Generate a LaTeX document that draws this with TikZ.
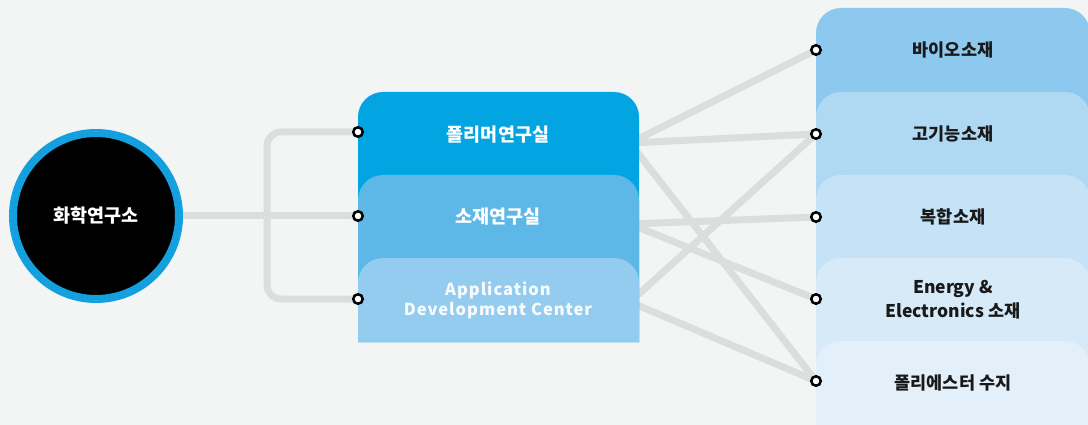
\documentclass[tikz,border=0pt]{standalone}
\usepackage{fontspec}
\newfontfamily\krfont{Noto Sans CJK KR}
\newfontfamily\krwide{Noto Sans CJK KR}[LetterSpace=6]
\definecolor{bg}{HTML}{F3F4F4}
\definecolor{wiregray}{HTML}{DCDDDD}
\definecolor{ring}{HTML}{14A0DE}
\definecolor{labA}{HTML}{02A5E2}
\definecolor{labB}{HTML}{5DB8E8}
\definecolor{labC}{HTML}{93CCEF}
\definecolor{matA}{HTML}{8DC9EE}
\definecolor{matB}{HTML}{AFD8F3}
\definecolor{matC}{HTML}{C5E2F6}
\definecolor{matD}{HTML}{D6EAF8}
\definecolor{matE}{HTML}{E3F0FA}
\begin{document}
\begin{tikzpicture}[x=1pt,y=-1pt,
    wire/.style={draw=wiregray,line width=7pt},
    port/.style={circle,draw=black,fill=white,line width=2.5pt,inner sep=0pt,minimum size=9.5pt},
    lab/.style={font=\krfont\bfseries\fontsize{18.5}{20}\selectfont,text=white,align=center},
    mat/.style={font=\krfont\bfseries\fontsize{17.5}{24}\selectfont,text=black!90,align=center}]
  \clip (0,0) rectangle (1088,425);
  \fill[bg] (0,0) rectangle (1088,425);
  \coordinate (l1) at (358,132);
  \coordinate (l2) at (358,216);
  \coordinate (l3) at (358,299);
  \coordinate (bend) at (267,216);
  \coordinate (s1) at (630,143);
  \coordinate (s2) at (630,224);
  \coordinate (s3) at (630,302);
  \coordinate (r1) at (816,50);
  \coordinate (r2) at (816,134);
  \coordinate (r3) at (816,217);
  \coordinate (r4) at (816,299);
  \coordinate (r5) at (816,381);
  \node[circle,draw=ring,line width=8pt,fill=black,minimum size=166pt,inner sep=0pt] (inst) at (96,216) {};
  \begin{scope}[wire]
    \draw (inst) -- (l2);
    \draw[rounded corners=14pt] (l1) -| (bend) |- (l3);
    \draw (s1) -- (r1);
    \draw (s1) -- (r2);
    \draw (s1) -- (r5);
    \draw (s2) -- (r3);
    \draw (s2) -- (r4);
    \draw (s3) -- (r2);
    \draw (s3) -- (r5);
  \end{scope}
  \fill[labA] (358,342) -- (358,117) arc[start angle=180,end angle=270,radius=25] -- (614,92) arc[start angle=270,end angle=360,radius=25] -- (639,342) -- cycle;
  \fill[labB] (358,342) -- (358,200) arc[start angle=180,end angle=270,radius=25] -- (614,175) arc[start angle=270,end angle=360,radius=25] -- (639,342) -- cycle;
  \fill[labC] (358,342) -- (358,283) arc[start angle=180,end angle=270,radius=25] -- (614,258) arc[start angle=270,end angle=360,radius=25] -- (639,342) -- cycle;
  \fill[matA] (816,440) -- (816,33) arc[start angle=180,end angle=270,radius=25] -- (1065,8) arc[start angle=270,end angle=360,radius=25] -- (1090,440) -- cycle;
  \fill[matB] (816,440) -- (816,117) arc[start angle=180,end angle=270,radius=25] -- (1065,92) arc[start angle=270,end angle=360,radius=25] -- (1090,440) -- cycle;
  \fill[matC] (816,440) -- (816,200) arc[start angle=180,end angle=270,radius=25] -- (1065,175) arc[start angle=270,end angle=360,radius=25] -- (1090,440) -- cycle;
  \fill[matD] (816,440) -- (816,283) arc[start angle=180,end angle=270,radius=25] -- (1065,258) arc[start angle=270,end angle=360,radius=25] -- (1090,440) -- cycle;
  \fill[matE] (816,440) -- (816,366) arc[start angle=180,end angle=270,radius=25] -- (1065,341) arc[start angle=270,end angle=360,radius=25] -- (1090,440) -- cycle;
  \node[lab] (instlab) at (inst) {화학연구소};
  \node[lab] (poly) at (498,135) {폴리머연구실};
  \node[lab] (matlab) at (498,217) {소재연구실};
  \node[lab,font=\krwide\bfseries\fontsize{16.5}{20}\selectfont,text=white!94!labC] (adc) at (498,300) {Application\\Development Center};
  \node[mat] (bio) at (953,50) {바이오소재};
  \node[mat] (func) at (953,134) {고기능소재};
  \node[mat] (comp) at (953,217) {복합소재};
  \node[mat] (ee) at (953,300) {Energy \&\\Electronics 소재};
  \node[mat] (pet) at (953,383) {폴리에스터 수지};
  \foreach \p in {l1,l2,l3,r1,r2,r3,r4,r5}
    \node[port] (dot\p) at (\p) {};
\end{tikzpicture}
\end{document}
